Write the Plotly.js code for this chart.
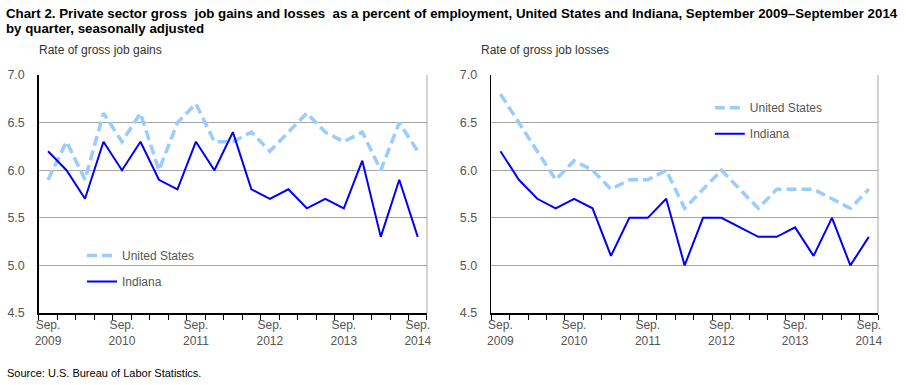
<!DOCTYPE html>
<html>
<head>
<meta charset="utf-8">
<script src="https://cdn.plot.ly/plotly-3.0.1.min.js"></script>
<style>html,body{margin:0;padding:0;background:#fff;}#chart{width:906px;height:385px;}</style>
</head>
<body>
<div id="chart"></div>
<script>
// Quarters, September 2009 – September 2014
const quarters = ["Sep 2009","Dec 2009","Mar 2010","Jun 2010","Sep 2010","Dec 2010","Mar 2011","Jun 2011",
  "Sep 2011","Dec 2011","Mar 2012","Jun 2012","Sep 2012","Dec 2012","Mar 2013","Jun 2013",
  "Sep 2013","Dec 2013","Mar 2014","Jun 2014","Sep 2014"];
const tickIdx = [0, 4, 8, 12, 16, 20];
const tickLabels = ["Sep.<br>2009","Sep.<br>2010","Sep.<br>2011","Sep.<br>2012","Sep.<br>2013","Sep.<br>2014"];

// Rate of gross job gains (%)
const gainsUS = [5.9,6.3,5.9,6.6,6.3,6.6,6.0,6.5,6.7,6.3,6.3,6.4,6.2,6.4,6.6,6.4,6.3,6.4,6.0,6.5,6.2];
const gainsIN = [6.2,6.0,5.7,6.3,6.0,6.3,5.9,5.8,6.3,6.0,6.4,5.8,5.7,5.8,5.6,5.7,5.6,6.1,5.3,5.9,5.3];
// Rate of gross job losses (%)
const lossesUS = [6.8,6.5,6.2,5.9,6.1,6.0,5.8,5.9,5.9,6.0,5.6,5.8,6.0,5.8,5.6,5.8,5.8,5.8,5.7,5.6,5.8];
const lossesIN = [6.2,5.9,5.7,5.6,5.7,5.6,5.1,5.5,5.5,5.7,5.0,5.5,5.5,5.4,5.3,5.3,5.4,5.1,5.5,5.0,5.3];

const xs = quarters.map((q, i) => i);
const FONT = "Liberation Sans, Arial, sans-serif";
const usStyle = {color: "#99CCFF", width: 3.5, dash: "10px,5px"};
const inStyle = {color: "#0000FF", width: 2};

const traces = [
  {x: xs, y: gainsUS, text: quarters, type: "scatter", mode: "lines", name: "United States", line: usStyle, xaxis: "x", yaxis: "y", legend: "legend", legendgroup: "a"},
  {x: xs, y: gainsIN, text: quarters, type: "scatter", mode: "lines", name: "Indiana", line: inStyle, xaxis: "x", yaxis: "y", legend: "legend", legendgroup: "b"},
  {x: xs, y: lossesUS, text: quarters, type: "scatter", mode: "lines", name: "United States", line: usStyle, xaxis: "x2", yaxis: "y2", legend: "legend2", legendgroup: "c"},
  {x: xs, y: lossesIN, text: quarters, type: "scatter", mode: "lines", name: "Indiana", line: inStyle, xaxis: "x2", yaxis: "y2", legend: "legend2", legendgroup: "d"}
];

const xTemplate = {
  range: [-0.5, 20.5], tickmode: "array", tickvals: tickIdx, ticktext: tickLabels,
  ticks: "", showline: true, linecolor: "#000", linewidth: 1.5, showgrid: false, zeroline: false,
  tickfont: {family: FONT, size: 12, color: "#555"},
  minor: {tick0: -0.5, dtick: 1, ticks: "outside", ticklen: 5, tickcolor: "#000", tickwidth: 1, showgrid: false}
};
const yTemplate = {
  range: [4.5, 7.0], dtick: 0.5, tick0: 4.5, tickformat: ".1f", ticks: "", ticklabelstandoff: 10,
  showline: true, linecolor: "#000", linewidth: 1.5, showgrid: true, gridcolor: "#A6A6A6", gridwidth: 1,
  zeroline: false, tickfont: {family: FONT, size: 12.5, color: "#555"}
};

const legendTemplate = {
  font: {family: FONT, size: 12, color: "#555"}, bgcolor: "rgba(0,0,0,0)", borderwidth: 0,
  traceorder: "grouped", tracegroupgap: 7, itemwidth: 30, xanchor: "left", yanchor: "top"
};

const layout = {
  width: 906, height: 385,
  margin: {l: 0, r: 0, t: 0, b: 0},
  paper_bgcolor: "#fff", plot_bgcolor: "#fff",
  showlegend: true,
  xaxis: Object.assign({}, xTemplate, {domain: [0.0428, 0.4713], anchor: "y"}),
  yaxis: Object.assign({}, yTemplate, {domain: [0.187, 0.805], anchor: "x"}),
  xaxis2: Object.assign({}, xTemplate, {domain: [0.5422, 0.9691], anchor: "y2"}),
  yaxis2: Object.assign({}, yTemplate, {domain: [0.187, 0.805], anchor: "x2"}),
  legend: Object.assign({}, legendTemplate, {x: 0.0905, y: 0.374}),
  legend2: Object.assign({}, legendTemplate, {x: 0.7835, y: 0.758}),
  shapes: [
    {type: "line", xref: "x domain", yref: "y domain", x0: 1, x1: 1, y0: 0, y1: 1, line: {color: "#A6A6A6", width: 1}},
    {type: "line", xref: "x2 domain", yref: "y2 domain", x0: 1, x1: 1, y0: 0, y1: 1, line: {color: "#A6A6A6", width: 1}}
  ],
  annotations: [
    {text: "<b>Chart 2. Private sector gross  job gains and losses  as a percent of employment, United States and Indiana, September 2009–September 2014</b>",
      xref: "paper", yref: "paper", x: 0.004, y: 1 - 13/385, xanchor: "left", yanchor: "middle", showarrow: false,
      font: {family: FONT, size: 13.3, color: "#000"}},
    {text: "<b>by quarter, seasonally adjusted</b>",
      xref: "paper", yref: "paper", x: 0.004, y: 1 - 28/385, xanchor: "left", yanchor: "middle", showarrow: false,
      font: {family: FONT, size: 13.3, color: "#000"}},
    {text: "Rate of gross job gains", xref: "paper", yref: "paper", x: 0.0405, y: 1 - 50/385, xanchor: "left", yanchor: "middle", showarrow: false, font: {family: FONT, size: 12, color: "#333"}},
    {text: "Rate of gross job losses", xref: "paper", yref: "paper", x: 0.529, y: 1 - 50/385, xanchor: "left", yanchor: "middle", showarrow: false, font: {family: FONT, size: 12, color: "#333"}},
    {text: "Source: U.S. Bureau of Labor Statistics.", xref: "paper", yref: "paper", x: 0.005, y: 1 - 373/385, xanchor: "left", yanchor: "middle", showarrow: false, font: {family: FONT, size: 11, color: "#000"}}
  ]
};

Plotly.newPlot("chart", traces, layout, {displayModeBar: false, staticPlot: true});
</script>
</body>
</html>
